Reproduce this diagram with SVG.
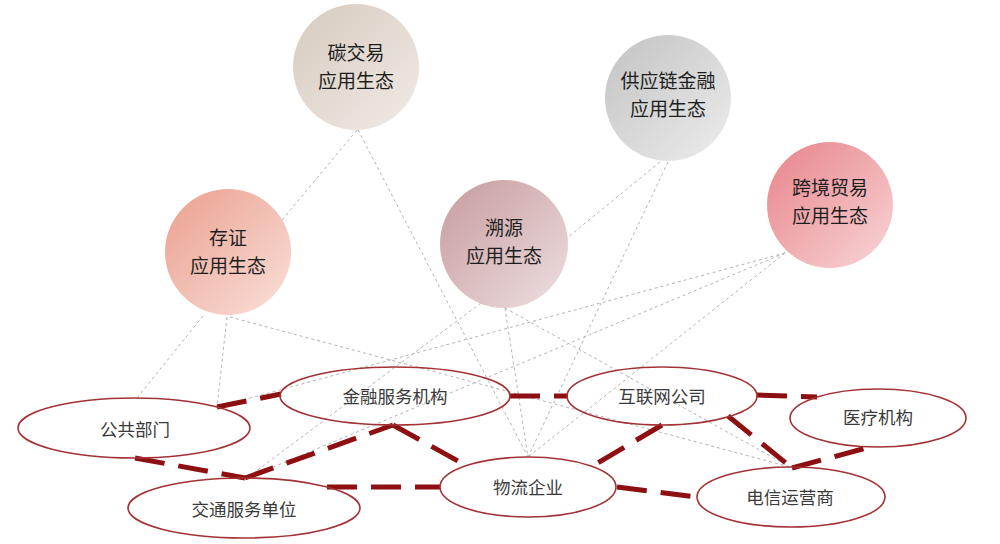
<svg xmlns="http://www.w3.org/2000/svg" width="1000" height="544" viewBox="0 0 1000 544">
<style>
.bg{fill:#ffffff}
.thin{stroke:#b4b4b4;stroke-width:1;stroke-dasharray:3 3;fill:none}
.thick{stroke:#8e0f12;stroke-width:5;stroke-dasharray:30 14;fill:none}
.ell{fill:none;stroke:#a33235;stroke-width:1.6}
.ct{font-family:"Noto Sans CJK SC","Noto Sans",sans-serif;font-size:19px;fill:#1e1e1e;text-anchor:middle}
.et{font-family:"Noto Sans CJK SC","Noto Sans",sans-serif;font-size:17.5px;fill:#3a3a3a;text-anchor:middle}
</style>
<defs>
<linearGradient id="gTan" x1="0" y1="0" x2="1" y2="1"><stop offset="0" stop-color="#d6cabe"/><stop offset="1" stop-color="#f1ebe6"/></linearGradient>
<linearGradient id="gGray" x1="0" y1="0" x2="1" y2="1"><stop offset="0" stop-color="#c2c2c2"/><stop offset="1" stop-color="#ededed"/></linearGradient>
<linearGradient id="gSalmon" x1="0" y1="0" x2="1" y2="1"><stop offset="0" stop-color="#eb9f8e"/><stop offset="1" stop-color="#f9e0da"/></linearGradient>
<linearGradient id="gMauve" x1="0" y1="0" x2="1" y2="1"><stop offset="0" stop-color="#c69a9d"/><stop offset="1" stop-color="#eee0e1"/></linearGradient>
<linearGradient id="gPink" x1="0" y1="0" x2="1" y2="1"><stop offset="0" stop-color="#e7838a"/><stop offset="1" stop-color="#f9d6d8"/></linearGradient>
</defs>
<rect class="bg" x="0" y="0" width="1000" height="544"/>
<g id="connectors">
<line class="thin" x1="357" y1="130" x2="282" y2="220"/>
<line class="thin" x1="358" y1="130" x2="528" y2="457"/>
<line class="thin" x1="203" y1="316" x2="137" y2="398"/>
<line class="thin" x1="227" y1="317" x2="217" y2="407"/>
<line class="thin" x1="230" y1="317" x2="790" y2="467"/>
<line class="thin" x1="481" y1="303" x2="247" y2="478"/>
<line class="thin" x1="505" y1="308" x2="528" y2="457"/>
<line class="thin" x1="505" y1="308" x2="790" y2="467"/>
<line class="thin" x1="660" y1="162" x2="567" y2="238"/>
<line class="thin" x1="668" y1="162" x2="528" y2="457"/>
<line class="thin" x1="785" y1="253" x2="217" y2="407"/>
<line class="thin" x1="785" y1="253" x2="247" y2="478"/>
<line class="thin" x1="785" y1="253" x2="528" y2="457"/>
<line class="thick" x1="217" y1="407" x2="281" y2="394"/>
<line class="thick" x1="135" y1="458" x2="245" y2="478"/>
<line class="thick" x1="245" y1="478" x2="393" y2="425"/>
<line class="thick" x1="393" y1="425" x2="467" y2="466"/>
<line class="thick" x1="327" y1="487" x2="440" y2="487"/>
<line class="thick" x1="510" y1="396" x2="568" y2="396"/>
<line class="thick" x1="662" y1="425" x2="591" y2="467"/>
<line class="thick" x1="617" y1="487" x2="697" y2="497"/>
<line class="thick" x1="757" y1="395" x2="817" y2="397"/>
<line class="thick" x1="728" y1="416" x2="792" y2="468"/>
<line class="thick" x1="792" y1="468" x2="870" y2="447"/>
</g>
<g id="node-tanjiaoyi"><circle cx="356" cy="67" r="63" fill="url(#gTan)"/><text class="ct" x="356" y="60">碳交易</text><text class="ct" x="356" y="88">应用生态</text></g>
<g id="node-gongyinglian"><circle cx="668" cy="98" r="63" fill="url(#gGray)"/><text class="ct" x="668" y="88">供应链金融</text><text class="ct" x="668" y="116">应用生态</text></g>
<g id="node-cunzheng"><circle cx="228" cy="252" r="63" fill="url(#gSalmon)"/><text class="ct" x="228" y="245">存证</text><text class="ct" x="228" y="273">应用生态</text></g>
<g id="node-suyuan"><circle cx="504" cy="244" r="64" fill="url(#gMauve)"/><text class="ct" x="504" y="235">溯源</text><text class="ct" x="504" y="263">应用生态</text></g>
<g id="node-kuajing"><circle cx="830" cy="205" r="63" fill="url(#gPink)"/><text class="ct" x="830" y="195">跨境贸易</text><text class="ct" x="830" y="223">应用生态</text></g>
<g id="node-gonggong"><ellipse class="ell" cx="134" cy="428" rx="116" ry="30"/><text class="et" x="135" y="436">公共部门</text></g>
<g id="node-jiaotong"><ellipse class="ell" cx="244" cy="508" rx="116" ry="30"/><text class="et" x="244" y="516">交通服务单位</text></g>
<g id="node-jinrong"><ellipse class="ell" cx="395" cy="396" rx="115" ry="29"/><text class="et" x="395" y="403">金融服务机构</text></g>
<g id="node-hulianwang"><ellipse class="ell" cx="662" cy="396" rx="95" ry="29"/><text class="et" x="662" y="403">互联网公司</text></g>
<g id="node-yiliao"><ellipse class="ell" cx="878" cy="418" rx="88" ry="29"/><text class="et" x="878" y="424">医疗机构</text></g>
<g id="node-wuliu"><ellipse class="ell" cx="528" cy="487" rx="88" ry="30"/><text class="et" x="528" y="494">物流企业</text></g>
<g id="node-dianxin"><ellipse class="ell" cx="791" cy="497" rx="94" ry="30"/><text class="et" x="790" y="504">电信运营商</text></g>
</svg>
